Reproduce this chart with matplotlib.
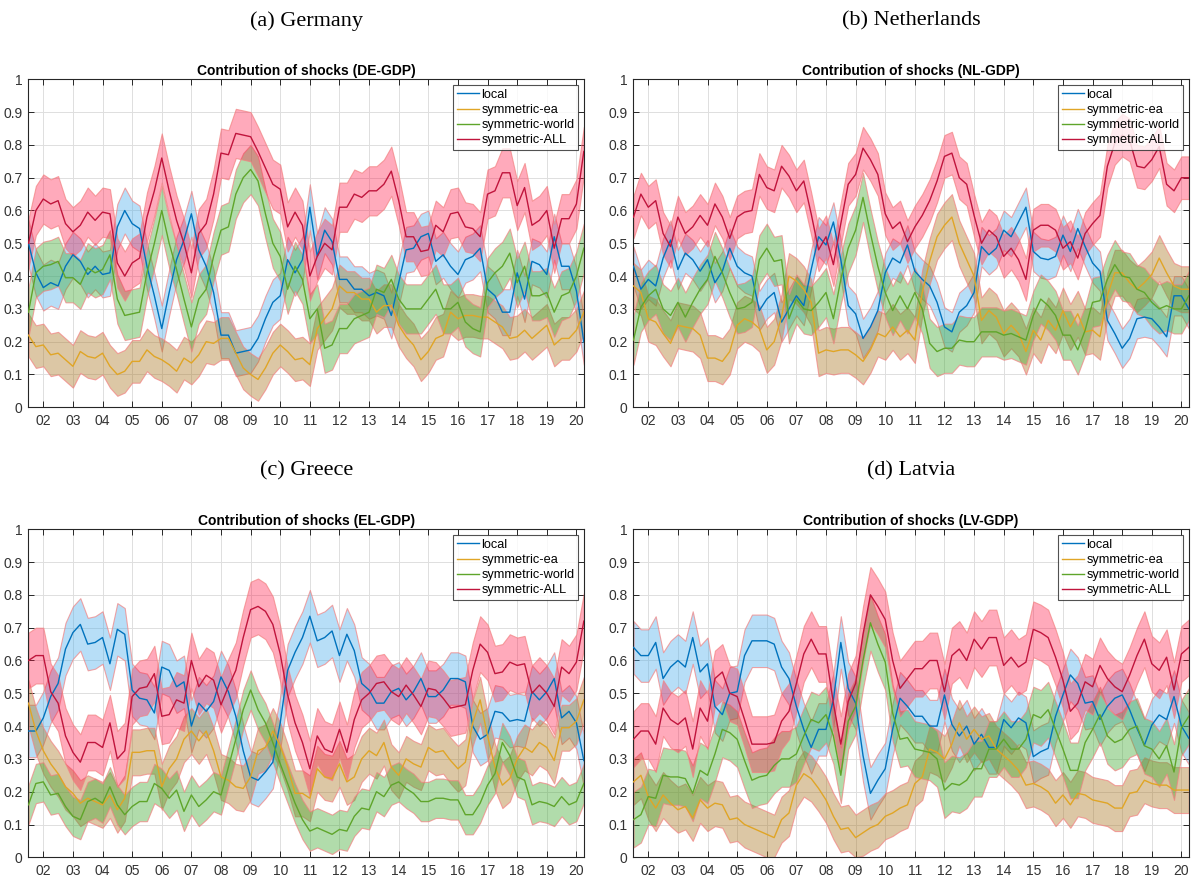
import numpy as np
import matplotlib
matplotlib.use("Agg")
import matplotlib.pyplot as plt

# ---------------- data (quarterly, 2001Q3 .. 2020Q2) ----------------
start_year = 2001.5
n_quarters = 76
year_ticks = list(range(2002, 2021))
year_labels = ["%02d" % (y % 100) for y in year_ticks]
series_names = ["local", "symmetric-ea", "symmetric-world", "symmetric-ALL"]

DE_local = [0.50,0.41,0.365,0.38,0.37,0.43,0.465,0.445,0.405,0.43,
            0.405,0.41,0.55,0.60,0.56,0.545,0.43,0.34,0.24,0.35,
            0.45,0.51,0.59,0.48,0.43,0.35,0.22,0.22,0.165,0.17,
            0.175,0.21,0.27,0.32,0.34,0.45,0.41,0.45,0.61,0.46,
            0.54,0.505,0.39,0.39,0.36,0.36,0.34,0.35,0.34,0.28,
            0.38,0.48,0.485,0.52,0.53,0.445,0.465,0.43,0.405,0.45,
            0.46,0.485,0.36,0.34,0.29,0.29,0.41,0.33,0.445,0.435,
            0.405,0.52,0.43,0.43,0.355,0.20]
DE_ea = [0.22,0.185,0.19,0.16,0.165,0.145,0.125,0.17,0.155,0.15,
         0.165,0.125,0.10,0.11,0.14,0.14,0.175,0.155,0.145,0.13,
         0.11,0.15,0.135,0.16,0.20,0.195,0.21,0.21,0.165,0.12,
         0.10,0.085,0.12,0.165,0.19,0.17,0.145,0.15,0.13,0.24,
         0.27,0.30,0.37,0.35,0.35,0.33,0.33,0.29,0.31,0.31,
         0.25,0.215,0.19,0.145,0.17,0.21,0.22,0.29,0.27,0.28,
         0.28,0.275,0.275,0.26,0.245,0.21,0.215,0.235,0.21,0.23,
         0.25,0.19,0.21,0.21,0.235,0.29]
DE_world = [0.29,0.41,0.43,0.435,0.445,0.395,0.395,0.375,0.425,0.41,
            0.42,0.465,0.33,0.28,0.285,0.29,0.41,0.50,0.60,0.50,
            0.42,0.33,0.245,0.33,0.36,0.46,0.54,0.55,0.65,0.70,
            0.725,0.69,0.59,0.50,0.46,0.36,0.43,0.39,0.27,0.30,
            0.18,0.19,0.24,0.24,0.27,0.28,0.29,0.36,0.35,0.39,
            0.33,0.30,0.30,0.30,0.33,0.36,0.30,0.30,0.32,0.26,
            0.24,0.23,0.38,0.41,0.43,0.47,0.38,0.43,0.34,0.34,
            0.35,0.29,0.34,0.35,0.40,0.485]
DE_all = [0.50,0.60,0.635,0.62,0.63,0.56,0.535,0.555,0.595,0.57,
          0.595,0.59,0.44,0.40,0.44,0.455,0.58,0.66,0.76,0.66,
          0.57,0.50,0.41,0.53,0.56,0.65,0.775,0.77,0.835,0.83,
          0.825,0.78,0.73,0.68,0.665,0.55,0.595,0.555,0.40,0.46,
          0.50,0.48,0.61,0.61,0.65,0.64,0.66,0.66,0.68,0.72,
          0.63,0.52,0.52,0.475,0.48,0.555,0.535,0.59,0.595,0.55,
          0.545,0.52,0.65,0.66,0.715,0.715,0.615,0.67,0.555,0.57,
          0.60,0.485,0.575,0.575,0.62,0.78]
DE_halfwidth = [0.07, 0.065, 0.075, 0.075]

NL_local = [0.43,0.36,0.39,0.37,0.455,0.51,0.42,0.47,0.45,0.415,
            0.45,0.38,0.415,0.485,0.43,0.41,0.40,0.295,0.33,0.35,
            0.26,0.30,0.34,0.31,0.42,0.52,0.495,0.565,0.45,0.31,
            0.285,0.21,0.245,0.295,0.41,0.455,0.44,0.495,0.415,0.39,
            0.37,0.32,0.245,0.23,0.29,0.31,0.35,0.49,0.465,0.485,
            0.54,0.52,0.565,0.61,0.475,0.455,0.45,0.46,0.525,0.475,
            0.545,0.49,0.44,0.415,0.265,0.225,0.18,0.21,0.27,0.275,
            0.27,0.245,0.215,0.34,0.34,0.30]
NL_ea = [0.37,0.35,0.27,0.26,0.225,0.195,0.25,0.245,0.24,0.22,
         0.15,0.15,0.14,0.17,0.25,0.27,0.26,0.24,0.175,0.20,
         0.275,0.40,0.385,0.36,0.32,0.165,0.175,0.17,0.175,0.175,
         0.16,0.14,0.175,0.225,0.215,0.245,0.215,0.235,0.205,0.35,
         0.445,0.52,0.555,0.58,0.50,0.45,0.40,0.265,0.295,0.275,
         0.225,0.25,0.225,0.17,0.235,0.205,0.265,0.235,0.295,0.245,
         0.285,0.23,0.235,0.215,0.34,0.41,0.41,0.38,0.36,0.38,
         0.405,0.455,0.41,0.37,0.36,0.36]
NL_world = [0.205,0.305,0.34,0.36,0.30,0.28,0.32,0.275,0.32,0.36,
            0.39,0.46,0.41,0.35,0.30,0.305,0.32,0.45,0.485,0.445,
            0.45,0.27,0.33,0.30,0.295,0.32,0.35,0.27,0.39,0.485,
            0.54,0.64,0.53,0.43,0.35,0.295,0.34,0.30,0.35,0.30,
            0.195,0.17,0.18,0.18,0.205,0.20,0.20,0.23,0.23,0.23,
            0.22,0.225,0.215,0.205,0.28,0.33,0.31,0.28,0.22,0.22,
            0.175,0.235,0.32,0.325,0.39,0.435,0.40,0.395,0.36,0.35,
            0.32,0.30,0.31,0.30,0.30,0.34]
NL_all = [0.58,0.65,0.61,0.63,0.53,0.49,0.58,0.53,0.55,0.585,
          0.555,0.62,0.58,0.515,0.58,0.595,0.60,0.71,0.67,0.66,
          0.735,0.705,0.66,0.69,0.59,0.48,0.52,0.435,0.56,0.68,
          0.71,0.79,0.755,0.71,0.59,0.545,0.565,0.505,0.55,0.585,
          0.63,0.69,0.765,0.775,0.70,0.68,0.585,0.50,0.54,0.52,
          0.46,0.485,0.45,0.39,0.54,0.555,0.555,0.54,0.485,0.505,
          0.455,0.53,0.56,0.585,0.735,0.805,0.83,0.815,0.735,0.73,
          0.755,0.795,0.68,0.66,0.70,0.70]
NL_halfwidth = [0.06, 0.07, 0.075, 0.065]

EL_local = [0.385,0.385,0.425,0.49,0.53,0.635,0.685,0.71,0.65,0.655,
            0.67,0.59,0.695,0.68,0.51,0.485,0.48,0.44,0.58,0.57,
            0.52,0.535,0.40,0.47,0.445,0.475,0.55,0.505,0.43,0.325,
            0.245,0.235,0.26,0.29,0.41,0.57,0.625,0.67,0.735,0.66,
            0.67,0.69,0.615,0.68,0.63,0.53,0.51,0.47,0.47,0.505,
            0.515,0.48,0.505,0.545,0.49,0.49,0.51,0.545,0.545,0.535,
            0.40,0.36,0.375,0.445,0.44,0.415,0.42,0.415,0.505,0.48,
            0.505,0.545,0.425,0.445,0.41,0.295]
EL_ea = [0.47,0.385,0.325,0.285,0.255,0.215,0.195,0.165,0.18,0.17,
         0.16,0.19,0.145,0.18,0.32,0.32,0.325,0.325,0.215,0.27,
         0.30,0.36,0.385,0.355,0.385,0.325,0.245,0.235,0.215,0.21,
         0.245,0.325,0.335,0.385,0.34,0.275,0.195,0.195,0.18,0.27,
         0.245,0.24,0.285,0.23,0.245,0.30,0.325,0.31,0.35,0.275,
         0.25,0.30,0.285,0.275,0.335,0.32,0.325,0.295,0.27,0.29,
         0.41,0.48,0.37,0.275,0.22,0.24,0.30,0.335,0.32,0.35,
         0.335,0.295,0.395,0.395,0.415,0.48]
EL_world = [0.16,0.225,0.23,0.19,0.195,0.155,0.125,0.115,0.17,0.18,
            0.165,0.215,0.16,0.13,0.155,0.17,0.17,0.225,0.21,0.18,
            0.205,0.14,0.19,0.155,0.175,0.20,0.19,0.275,0.36,0.45,
            0.51,0.45,0.41,0.35,0.285,0.225,0.165,0.115,0.08,0.09,
            0.08,0.07,0.085,0.08,0.125,0.15,0.145,0.20,0.185,0.22,
            0.23,0.21,0.195,0.17,0.17,0.18,0.18,0.175,0.175,0.13,
            0.13,0.165,0.22,0.255,0.35,0.31,0.245,0.235,0.16,0.17,
            0.165,0.155,0.185,0.16,0.17,0.225]
EL_all = [0.60,0.615,0.615,0.505,0.47,0.37,0.32,0.29,0.35,0.35,
          0.335,0.41,0.30,0.325,0.49,0.515,0.52,0.56,0.43,0.435,
          0.48,0.47,0.60,0.52,0.555,0.54,0.465,0.52,0.57,0.67,
          0.755,0.765,0.75,0.71,0.62,0.495,0.41,0.35,0.27,0.37,
          0.33,0.32,0.39,0.32,0.42,0.48,0.50,0.53,0.535,0.505,
          0.49,0.525,0.495,0.46,0.515,0.51,0.485,0.455,0.46,0.465,
          0.57,0.65,0.625,0.56,0.565,0.595,0.585,0.59,0.50,0.525,
          0.50,0.46,0.58,0.56,0.595,0.72]
EL_halfwidth = [0.08, 0.07, 0.06, 0.085]

LV_local = [0.64,0.615,0.615,0.655,0.545,0.58,0.60,0.58,0.67,0.565,
            0.59,0.46,0.435,0.50,0.505,0.615,0.66,0.66,0.66,0.65,
            0.58,0.545,0.46,0.39,0.335,0.39,0.39,0.48,0.655,0.515,
            0.47,0.31,0.195,0.235,0.27,0.39,0.485,0.46,0.43,0.43,
            0.40,0.40,0.495,0.405,0.37,0.40,0.345,0.375,0.335,0.335,
            0.42,0.395,0.425,0.41,0.307,0.322,0.332,0.43,0.495,0.556,
            0.53,0.47,0.475,0.42,0.46,0.485,0.495,0.45,0.393,0.342,
            0.403,0.434,0.42,0.49,0.40,0.363]
LV_ea = [0.23,0.25,0.185,0.15,0.19,0.165,0.145,0.155,0.12,0.175,
         0.15,0.165,0.16,0.115,0.12,0.10,0.09,0.08,0.07,0.06,
         0.115,0.135,0.22,0.255,0.24,0.21,0.175,0.125,0.085,0.09,
         0.06,0.075,0.09,0.10,0.125,0.135,0.15,0.16,0.225,0.245,
         0.33,0.32,0.30,0.345,0.41,0.36,0.39,0.36,0.37,0.33,
         0.31,0.29,0.265,0.22,0.225,0.215,0.20,0.165,0.19,0.16,
         0.195,0.19,0.175,0.17,0.165,0.15,0.15,0.195,0.20,0.235,
         0.225,0.22,0.22,0.205,0.205,0.205]
LV_world = [0.115,0.13,0.185,0.18,0.25,0.245,0.245,0.24,0.195,0.265,
            0.25,0.315,0.39,0.38,0.36,0.295,0.235,0.245,0.25,0.28,
            0.30,0.30,0.315,0.37,0.42,0.41,0.435,0.37,0.25,0.415,
            0.46,0.60,0.715,0.65,0.595,0.44,0.36,0.365,0.33,0.325,
            0.32,0.30,0.205,0.225,0.22,0.235,0.27,0.27,0.33,0.33,
            0.36,0.33,0.33,0.36,0.435,0.425,0.45,0.39,0.33,0.265,
            0.265,0.35,0.39,0.435,0.37,0.35,0.36,0.39,0.40,0.34,
            0.33,0.30,0.34,0.26,0.395,0.43]
LV_all = [0.36,0.385,0.385,0.345,0.455,0.42,0.405,0.425,0.33,0.455,
          0.415,0.545,0.565,0.50,0.49,0.42,0.345,0.345,0.345,0.35,
          0.415,0.445,0.53,0.62,0.665,0.62,0.62,0.47,0.345,0.475,
          0.53,0.68,0.80,0.765,0.725,0.60,0.515,0.545,0.575,0.575,
          0.60,0.60,0.505,0.615,0.635,0.60,0.665,0.635,0.67,0.67,
          0.585,0.61,0.58,0.595,0.695,0.685,0.67,0.61,0.54,0.445,
          0.47,0.535,0.52,0.585,0.545,0.52,0.505,0.555,0.615,0.665,
          0.59,0.57,0.61,0.51,0.62,0.64]
LV_halfwidth = [0.08, 0.07, 0.085, 0.085]

panels = [
    ("(a) Germany", "Contribution of shocks (DE-GDP)", [DE_local, DE_ea, DE_world, DE_all], DE_halfwidth),
    ("(b) Netherlands", "Contribution of shocks (NL-GDP)", [NL_local, NL_ea, NL_world, NL_all], NL_halfwidth),
    ("(c) Greece", "Contribution of shocks (EL-GDP)", [EL_local, EL_ea, EL_world, EL_all], EL_halfwidth),
    ("(d) Latvia", "Contribution of shocks (LV-GDP)", [LV_local, LV_ea, LV_world, LV_all], LV_halfwidth),
]

# ---------------- style ----------------
line_colors = ["#0072BD", "#E0A526", "#5FA52A", "#C0143C"]
band_colors = [(0.30, 0.68, 0.92, 0.40), (0.66, 0.46, 0.12, 0.40),
               (0.24, 0.66, 0.18, 0.40), (1.00, 0.08, 0.27, 0.36)]
edge_color = (0.95, 0.50, 0.50, 0.7)
axis_col = "#262626"
tick_col = "#333333"

W, H = 1192, 880
fig = plt.figure(figsize=(W / 100, H / 100), dpi=100)
ax_pos = [
    [28.3 / W, 1 - 407.3 / H, 555.7 / W, 328 / H],
    [633.3 / W, 1 - 407.3 / H, 555.7 / W, 328 / H],
    [28.3 / W, 1 - 857.3 / H, 555.7 / W, 328 / H],
    [633.3 / W, 1 - 857.3 / H, 555.7 / W, 328 / H],
]
caption_y = [1 - 21 / H, 1 - 21 / H, 1 - 471 / H, 1 - 471 / H]

x = start_year + np.arange(n_quarters) / 4.0

for k, (caption, title, series, halfw) in enumerate(panels):
    ax = fig.add_axes(ax_pos[k])
    for s, vals, hw in zip(range(4), series, halfw):
        v = np.array(vals)
        ax.fill_between(x, np.clip(v - hw, 0, 1), np.clip(v + hw, 0, 1),
                        facecolor=band_colors[s], edgecolor=edge_color,
                        linewidth=0.8, zorder=2 + s * 0.1)
    handles = []
    for s, vals in enumerate(series):
        h, = ax.plot(x, vals, color=line_colors[s], lw=1.0, zorder=3 + s * 0.1,
                     label=series_names[s])
        handles.append(h)

    ax.set_xlim(start_year - 0.006, start_year + (n_quarters - 1) / 4.0 + 0.006)
    ax.set_ylim(0, 1)
    ax.set_xticks(year_ticks)
    ax.set_xticklabels(year_labels)
    ax.set_yticks(np.round(np.arange(0, 1.01, 0.1), 1))
    ax.set_yticklabels(["0"] + ["%.1f" % t for t in np.arange(0.1, 0.95, 0.1)] + ["1"])
    ax.grid(True, color="#dedede", lw=0.7, zorder=0)
    ax.set_axisbelow(True)
    ax.tick_params(direction="in", length=4, width=0.7, top=True, right=True,
                   labelsize=10, colors=axis_col, labelcolor=tick_col, pad=4)
    ax.tick_params(axis="x", pad=5)
    for sp in ax.spines.values():
        sp.set_color(axis_col)
        sp.set_linewidth(0.8)
    ax.set_title(title, fontsize=10, fontweight="bold", pad=3,
                 family="Liberation Sans", color="black")
    for lab in ax.get_xticklabels() + ax.get_yticklabels():
        lab.set_family("Liberation Sans")
    leg = ax.legend(handles=handles, loc="upper right",
                    frameon=True, fancybox=False, edgecolor=axis_col,
                    borderpad=0.3, handlelength=1.75, handletextpad=0.15,
                    labelspacing=0.25, borderaxespad=0.45,
                    prop={"family": "Liberation Sans", "size": 9.2})
    leg.get_frame().set_linewidth(0.8)
    leg.set_zorder(10)
    pos = ax_pos[k]
    fig.text(pos[0] + pos[2] / 2, caption_y[k], caption, ha="center", va="center",
             fontsize=16, family="Liberation Serif")

fig.savefig("out.png", dpi=100)
